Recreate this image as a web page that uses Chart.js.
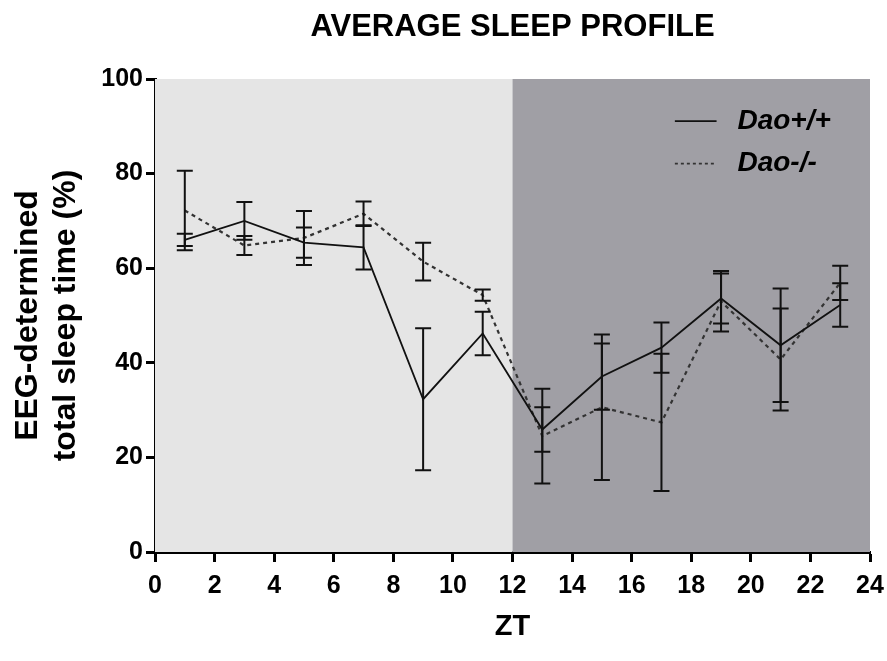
<!DOCTYPE html>
<html>
<head>
<meta charset="utf-8">
<script src="https://cdn.jsdelivr.net/npm/chart.js@4.4.0/dist/chart.umd.min.js"></script>
<style>
  html, body { margin: 0; padding: 0; background: #ffffff; }
  #wrap { width: 887px; height: 661px; position: relative; }
</style>
</head>
<body>
<div id="wrap"><canvas id="c" width="887" height="661"></canvas></div>
<script>
// ---- Data ----
const chartTitle = 'AVERAGE SLEEP PROFILE';
const seriesNames = ['Dao+/+', 'Dao-/-'];
const zt = [1, 3, 5, 7, 9, 11, 13, 15, 17, 19, 21, 23];
const wtMean = [66, 70, 65.4, 64.4, 32.3, 46.2, 25.9, 37.1, 43.2, 53.6, 43.7, 52.2];
const wtSem  = [1.3, 4, 3.2, 4.7, 15, 4.6, 4.7, 7, 5.3, 5.3, 12, 4.6];
const koMean = [72.2, 64.8, 66.4, 71.5, 61.4, 54.3, 24.5, 30.6, 27.4, 53, 40.7, 56.9];
const koSem  = [8.4, 2, 5.7, 2.6, 4, 1.2, 10, 15.4, 14.5, 6.4, 10.8, 3.6];
const xTicks = [0, 2, 4, 6, 8, 10, 12, 14, 16, 18, 20, 22, 24];
const yTicks = [0, 20, 40, 60, 80, 100];
const lightPhase = [0, 12];
const darkPhase = [12, 24];
const yTitle = ['EEG-determined', 'total sleep time (%)'];
const xTitle = 'ZT';

const FONT = "'Liberation Sans', Arial, Helvetica, sans-serif";

const toPts = (xs, ys) => xs.map((x, i) => ({ x: x, y: ys[i] }));

// background shading for light / dark phases
const phasePlugin = {
  id: 'phases',
  beforeDatasetsDraw(chart) {
    const { ctx, scales } = chart;
    const x = scales.x, y = scales.y;
    ctx.save();
    const top = y.getPixelForValue(100), bot = y.getPixelForValue(0);
    ctx.fillStyle = '#e5e5e5';
    let a = x.getPixelForValue(lightPhase[0]), b = x.getPixelForValue(lightPhase[1]);
    ctx.fillRect(a, top, b - a, bot - top);
    ctx.fillStyle = '#a09fa5';
    a = x.getPixelForValue(darkPhase[0]); b = x.getPixelForValue(darkPhase[1]);
    ctx.fillRect(a, top, b - a, bot - top);
    ctx.restore();
  }
};

// SEM error bars
const errPlugin = {
  id: 'errbars',
  afterDatasetsDraw(chart) {
    const { ctx, scales } = chart;
    ctx.save();
    ctx.strokeStyle = '#111';
    ctx.lineWidth = 2;
    ctx.setLineDash([]);
    chart.data.datasets.forEach(ds => {
      ds.data.forEach((p, i) => {
        const e = ds.errors[i];
        const px = scales.x.getPixelForValue(p.x);
        const y1 = scales.y.getPixelForValue(p.y + e);
        const y2 = scales.y.getPixelForValue(p.y - e);
        ctx.beginPath();
        ctx.moveTo(px, y1); ctx.lineTo(px, y2);
        ctx.moveTo(px - 8, y1); ctx.lineTo(px + 8, y1);
        ctx.moveTo(px - 8, y2); ctx.lineTo(px + 8, y2);
        ctx.stroke();
      });
    });
    ctx.restore();
  }
};

// in-plot legend
const legendPlugin = {
  id: 'inlegend',
  afterDraw(chart) {
    const { ctx, scales } = chart;
    const x0 = scales.x.getPixelForValue(17.45);
    const x1 = scales.x.getPixelForValue(18.85);
    const xt = scales.x.getPixelForValue(19.55);
    const ys = [scales.y.getPixelForValue(91.1), scales.y.getPixelForValue(82.1)];
    ctx.save();
    chart.data.datasets.forEach((ds, i) => {
      ctx.strokeStyle = ds.borderColor;
      ctx.lineWidth = i === 1 ? 1.6 : ds.borderWidth;
      ctx.setLineDash(i === 1 ? [3, 3] : []);
      ctx.beginPath();
      ctx.moveTo(x0, ys[i]); ctx.lineTo(x1, ys[i]);
      ctx.stroke();
      ctx.setLineDash([]);
      ctx.fillStyle = '#000';
      ctx.font = "italic bold 28px " + FONT;
      ctx.textBaseline = 'middle';
      ctx.textAlign = 'left';
      ctx.fillText(seriesNames[i], xt, ys[i]);
    });
    ctx.restore();
  }
};

new Chart(document.getElementById('c'), {
  type: 'line',
  data: {
    datasets: [
      { label: seriesNames[0], data: toPts(zt, wtMean), errors: wtSem,
        borderColor: '#111', borderWidth: 1.8, pointRadius: 0, tension: 0, fill: false },
      { label: seriesNames[1], data: toPts(zt, koMean), errors: koSem,
        borderColor: '#333', borderWidth: 2.2, borderDash: [4, 4], pointRadius: 0, tension: 0, fill: false }
    ]
  },
  options: {
    responsive: false,
    animation: false,
    layout: { padding: { left: 0, right: 17, top: 0, bottom: 0 } },
    plugins: {
      legend: { display: false },
      tooltip: { enabled: false },
      title: {
        display: true, text: chartTitle, fullSize: false, color: '#000',
        font: { family: FONT, size: 31, weight: 'bold', lineHeight: 1.2 },
        padding: { top: 9, bottom: 32.8 }
      }
    },
    scales: {
      x: {
        type: 'linear', min: 0, max: 24,
        afterBuildTicks: s => { s.ticks = xTicks.map(v => ({ value: v })); },
        afterFit: s => { s.height = 109; s.paddingLeft = 0; s.paddingRight = 0; },
        grid: { drawOnChartArea: false, drawTicks: true, tickLength: 10, tickWidth: 3, tickColor: '#000' },
        border: { display: true, color: '#000', width: 3 },
        ticks: { color: '#000', padding: 9, font: { family: FONT, size: 25, weight: 'bold' }, maxRotation: 0 },
        title: { display: true, text: xTitle, color: '#000', font: { family: FONT, size: 29, weight: 'bold' }, padding: { top: 0, bottom: 17 } }
      },
      y: {
        type: 'linear', min: 0, max: 100,
        afterBuildTicks: s => { s.ticks = yTicks.map(v => ({ value: v })); },
        afterFit: s => { s.width = 155; },
        grid: { drawOnChartArea: false, drawTicks: true, tickLength: 9, tickWidth: 3, tickColor: '#000' },
        border: { display: true, color: '#000', width: 3 },
        ticks: { color: '#000', padding: 3, font: { family: FONT, size: 25, weight: 'bold' } },
        title: { display: true, text: yTitle, color: '#000', font: { family: FONT, size: 32, weight: 'bold', lineHeight: 1.19 }, padding: { top: 9, bottom: 0 } }
      }
    }
  },
  plugins: [phasePlugin, errPlugin, legendPlugin]
});
</script>
</body>
</html>
